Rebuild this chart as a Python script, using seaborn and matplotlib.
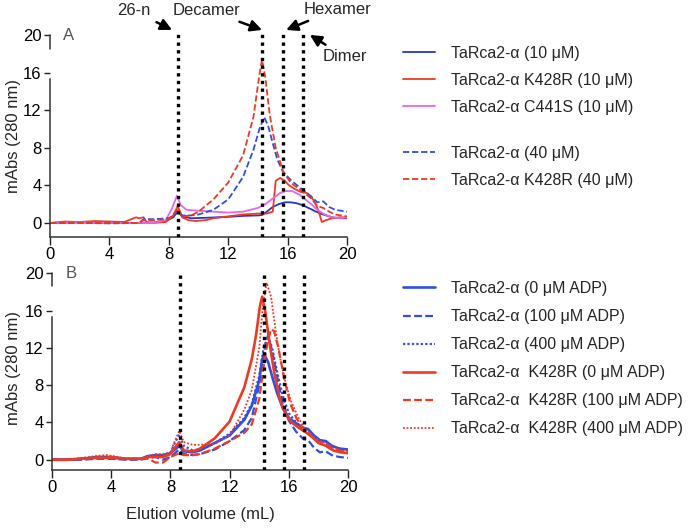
import matplotlib
matplotlib.use("Agg")
import matplotlib.pyplot as plt
import seaborn as sns

sns.set_style("ticks")
plt.rcParams['font.family'] = ['Liberation Sans', 'DejaVu Sans']

# ---------------- Data ----------------
# Panel A
a_blue10_x = [0, 2, 4, 6, 7, 7.8, 8.3, 8.6, 8.9, 9.5, 10.5, 12, 13, 14, 14.3, 14.6, 15, 15.4, 15.8, 16.2, 16.6, 17, 17.4, 17.8, 18.2, 18.6, 19, 19.5, 20]
a_blue10_y = [0, 0.05, 0, 0, 0.05, 0.2, 0.6, 1.2, 0.7, 0.5, 0.55, 0.65, 0.75, 0.8, 0.85, 1.2, 1.7, 2.0, 2.2, 2.2, 2.1, 1.9, 1.6, 1.3, 1.0, 0.8, 0.6, 0.5, 0.5]

a_red10_x = [0, 1, 2, 3, 4, 5, 5.8, 6.0, 6.3, 6.5, 7, 7.8, 8.3, 8.6, 8.9, 9.3, 9.8, 10.5, 11, 12, 13, 14, 14.6, 15.0, 15.2, 15.5, 15.8, 16.1, 16.5, 16.9, 17.3, 17.6, 17.9, 18.1, 18.3, 18.6, 19, 19.5, 20]
a_red10_y = [0.0, 0.15, 0.1, 0.2, 0.15, 0.1, 0.6, 0.5, 0.6, 0.1, 0.0, 0.1, 0.8, 1.8, 0.6, 0.3, 0.2, 0.3, 0.5, 0.7, 0.9, 1.0, 1.0, 1.2, 4.5, 4.8, 4.5, 4.0, 3.6, 3.3, 3.2, 2.8, 2.0, 1.2, 0.1, 0.3, 0.5, 0.6, 0.6]

a_mag10_x = [0, 2, 4, 6, 7, 7.8, 8.2, 8.55, 8.8, 9.2, 10, 11, 12, 13, 14, 14.5, 15, 15.5, 15.9, 16.3, 16.8, 17.2, 17.6, 18, 18.5, 19, 19.5, 20]
a_mag10_y = [0, 0.05, 0, 0, 0, 0.3, 1.5, 2.9, 1.9, 1.4, 1.3, 1.2, 1.1, 1.2, 1.6, 2.0, 2.6, 3.2, 3.4, 3.4, 3.0, 2.5, 2.0, 1.4, 0.9, 0.6, 0.5, 0.6]

a_blue40_x = [0, 2, 4, 6, 6.3, 7, 8, 8.3, 8.6, 8.9, 9.5, 10, 11, 12, 13, 13.7, 14.1, 14.42, 14.7, 15, 15.3, 15.7, 16.2, 16.8, 17.2, 17.6, 18, 18.4, 18.8, 19.2, 19.6, 20]
a_blue40_y = [0, 0, -0.05, 0, 0.4, 0.4, 0.5, 0.8, 1.3, 0.8, 0.8, 0.9, 1.4, 2.5, 4.9, 7.8, 10.0, 11.3, 10.3, 8.5, 6.8, 5.4, 4.6, 3.8, 3.3, 2.8, 2.2, 2.3, 1.7, 1.4, 1.3, 1.2]

a_red40_x = [0, 2, 4, 6, 6.3, 7, 8, 8.3, 8.6, 8.9, 9.5, 10, 11, 12, 13, 13.7, 14.1, 14.28, 14.5, 14.8, 15.2, 15.7, 16.2, 16.8, 17.2, 17.6, 18, 18.4, 18.8, 19.2, 19.6, 20]
a_red40_y = [0, 0, 0, 0, 0.3, 0.3, 0.4, 0.9, 1.6, 0.7, 0.8, 1.2, 2.5, 4.3, 7.2, 11.3, 15.8, 17.4, 15.5, 11.5, 8.0, 5.5, 4.3, 3.6, 3.1, 2.6, 1.8, 1.6, 1.2, 0.9, 0.8, 0.7]

# Panel B
b_blue0_x = [0, 1, 2, 3, 4, 5, 6, 6.5, 7, 7.5, 8, 8.3, 8.6, 8.9, 9.5, 10, 11, 12, 13, 13.5, 14, 14.2, 14.4, 14.6, 14.9, 15.2, 15.6, 16, 16.5, 17, 17.3, 17.7, 18.1, 18.5, 18.9, 19.4, 20]
b_blue0_y = [0, 0, 0.1, 0.3, 0.3, 0.1, 0.1, 0.4, 0.5, 0.5, 0.7, 1.1, 1.5, 0.9, 0.8, 1.0, 1.8, 2.6, 4.3, 5.8, 8.5, 10.8, 11.1, 10.5, 8.8, 7.2, 5.5, 4.5, 3.9, 3.4, 3.3, 2.6, 2.1, 2.0, 1.5, 1.2, 1.1]

b_blue100_x = [0, 1, 2, 3, 4, 5, 6, 6.5, 7, 7.5, 8, 8.3, 8.6, 8.9, 9.5, 10, 11, 12, 13, 13.5, 14, 14.3, 14.6, 14.9, 15.2, 15.6, 16, 16.5, 17, 17.3, 17.7, 18.1, 18.5, 18.9, 19.4, 20]
b_blue100_y = [0, 0, 0, 0.1, 0.1, 0, 0, 0.2, 0.3, 0, 0.3, 0.7, 1.1, 0.6, 0.5, 0.6, 1.1, 2.0, 3.2, 4.5, 8.0, 11.5, 13.4, 11.5, 9.0, 6.0, 4.2, 3.0, 2.2, 2.1, 1.3, 0.8, 0.9, 0.5, 0.3, 0.2]

b_blue400_x = [0, 1, 2, 3, 4, 5, 6, 6.5, 7, 7.5, 8, 8.3, 8.6, 8.9, 9.5, 10, 11, 12, 13, 13.5, 14, 14.3, 14.6, 14.9, 15.2, 15.6, 16, 16.5, 17, 17.3, 17.7, 18.1, 18.5, 18.9, 19.4, 20]
b_blue400_y = [0, 0, 0.1, 0.2, 0.2, 0.1, 0.1, 0.4, 0.4, 0.4, 0.7, 1.8, 2.7, 1.5, 1.0, 1.1, 1.8, 2.8, 4.5, 6.0, 9.0, 12.0, 13.3, 11.8, 9.5, 6.8, 5.0, 4.0, 3.3, 3.2, 2.5, 2.0, 1.9, 1.5, 1.2, 1.0]

b_red0_x = [0, 1, 2, 3, 4, 5, 6, 6.5, 7, 7.5, 8, 8.3, 8.6, 8.9, 9.5, 10, 11, 12, 13, 13.5, 13.8, 14.05, 14.2, 14.4, 14.7, 15, 15.4, 15.8, 16.2, 16.7, 17.2, 17.6, 18, 18.5, 19, 19.5, 20]
b_red0_y = [0, 0, 0.1, 0.2, 0.2, 0.1, 0.1, 0.3, 0.3, 0.3, 0.6, 1.3, 1.9, 1.0, 0.9, 1.2, 2.3, 4.1, 7.8, 10.8, 13.5, 16.5, 17.5, 16.0, 12.5, 9.5, 6.5, 4.8, 4.0, 3.4, 2.9, 2.4, 1.8, 1.5, 1.0, 0.8, 0.7]

b_red100_x = [0, 1, 2, 3, 4, 5, 6, 6.5, 7, 7.5, 8, 8.3, 8.6, 8.9, 9.5, 10, 11, 12, 13, 13.5, 14, 14.3, 14.55, 14.8, 15.0, 15.3, 15.7, 16.1, 16.5, 17, 17.3, 17.7, 18.1, 18.5, 19, 19.5, 20]
b_red100_y = [0, 0, 0.1, 0.2, 0.3, 0.1, 0.1, 0.1, -0.3, -0.3, 0.3, 0.5, 0.7, 0.5, 0.5, 0.6, 1.2, 2.0, 2.9, 3.8, 6.5, 10.0, 12.5, 14.0, 13.8, 12.0, 8.6, 6.0, 4.5, 3.2, 2.8, 2.3, 1.8, 1.6, 1.2, 1.0, 0.9]

b_red400_x = [0, 1, 2, 3, 3.7, 4.5, 5, 6, 6.5, 7, 7.5, 8, 8.3, 8.6, 8.9, 9.5, 10, 11, 12, 13, 13.5, 14, 14.25, 14.5, 14.8, 15.1, 15.4, 15.7, 16.1, 16.5, 17, 17.3, 17.7, 18.1, 18.5, 19, 19.5, 20]
b_red400_y = [0, 0, 0.2, 0.4, 0.5, 0.3, 0.1, 0.1, 0.3, 0.6, 0.6, 0.8, 2.0, 3.1, 1.9, 1.6, 1.6, 1.7, 2.6, 5.4, 7.5, 12.0, 16.5, 19.0, 17.5, 14.0, 11.0, 8.8, 6.5, 5.0, 3.5, 3.0, 2.4, 2.0, 1.8, 1.3, 1.0, 0.9]

marker_positions = [8.65, 14.3, 15.7, 17.05]
marker_labels = ["26-n", "Decamer", "Hexamer", "Dimer"]
x_ticks = [0, 4, 8, 12, 16, 20]
y_ticks = [0, 4, 8, 12, 16, 20]

legend_a1 = ["TaRca2-α (10 μM)", "TaRca2-α K428R (10 μM)", "TaRca2-α C441S (10 μM)"]
legend_a2 = ["TaRca2-α (40 μM)", "TaRca2-α K428R (40 μM)"]
legend_b = ["TaRca2-α (0 μM ADP)", "TaRca2-α (100 μM ADP)", "TaRca2-α (400 μM ADP)",
            "TaRca2-α  K428R (0 μM ADP)", "TaRca2-α  K428R (100 μM ADP)", "TaRca2-α  K428R (400 μM ADP)"]

BLUE = '#2437c8'
BLUE2 = '#2f4fe0'
RED = '#ee3a24'
MAG = '#e866e6'

W, H = 689, 528
fig = plt.figure(figsize=(W / 100, H / 100), dpi=100)

axA = fig.add_axes([50 / W, 1 - 237 / H, 297 / W, 211 / H])
axB = fig.add_axes([52 / W, 1 - 470 / H, 296 / W, 206 / H])

DASH = (0, (3.5, 1.5))
DOT = (0, (1, 1))

# ---- Panel A lines
la = []
la.append(sns.lineplot(x=a_blue10_x, y=a_blue10_y, ax=axA, color=BLUE, lw=1.3, sort=False).lines[-1])
la.append(sns.lineplot(x=a_red10_x, y=a_red10_y, ax=axA, color=RED, lw=1.3, sort=False).lines[-1])
la.append(sns.lineplot(x=a_mag10_x, y=a_mag10_y, ax=axA, color=MAG, lw=1.3, sort=False).lines[-1])
la.append(sns.lineplot(x=a_blue40_x, y=a_blue40_y, ax=axA, color=BLUE2, lw=1.3, linestyle=DASH, sort=False).lines[-1])
la.append(sns.lineplot(x=a_red40_x, y=a_red40_y, ax=axA, color=RED, lw=1.3, linestyle=DASH, sort=False).lines[-1])

# ---- Panel B lines
lb = []
lb.append(sns.lineplot(x=b_blue0_x, y=b_blue0_y, ax=axB, color=BLUE2, lw=1.9, sort=False).lines[-1])
lb.append(sns.lineplot(x=b_blue100_x, y=b_blue100_y, ax=axB, color=BLUE2, lw=1.6, linestyle=DASH, sort=False).lines[-1])
lb.append(sns.lineplot(x=b_blue400_x, y=b_blue400_y, ax=axB, color=BLUE2, lw=1.6, linestyle=DOT, sort=False).lines[-1])
lb.append(sns.lineplot(x=b_red0_x, y=b_red0_y, ax=axB, color=RED, lw=1.9, sort=False).lines[-1])
lb.append(sns.lineplot(x=b_red100_x, y=b_red100_y, ax=axB, color=RED, lw=1.6, linestyle=DASH, sort=False).lines[-1])
lb.append(sns.lineplot(x=b_red400_x, y=b_red400_y, ax=axB, color=RED, lw=1.3, linestyle=DOT, sort=False).lines[-1])

for ax, ylo, vtop in [(axA, -1.5, 20.2), (axB, -1.1, 20.3)]:
    ax.set_xlim(0, 20)
    ax.set_ylim(ylo, 21)
    ax.vlines(marker_positions, ylo, vtop, colors='black', linestyles=(0, (1, 1.3)), lw=2.4, zorder=5)
    ax.set_xticks(x_ticks)
    ax.set_yticks(y_ticks)
    ax.tick_params(axis='both', labelsize=12, colors='#222222', width=1)
    ax.tick_params(axis='x', length=5.5, pad=2)
    ax.tick_params(axis='y', length=4, pad=2)
    for lab in ax.get_xticklabels() + ax.get_yticklabels():
        lab.set_color('black')
    sns.despine(ax=ax)
    ax.spines['left'].set_bounds(ylo, 15.3)
    ax.spines['bottom'].set_bounds(0, 20)
    for s in ['left', 'bottom']:
        ax.spines[s].set_color('#333333')
        ax.spines[s].set_linewidth(1.1)
    ax.plot([0, 0], [18.6, 20], color='#333333', lw=1.1, clip_on=False,
            transform=ax.get_yaxis_transform())
    ax.set_xlabel('')
    ax.set_ylabel('')

# Panel letters
fig.text(69 / W, 1 - 35 / H, 'A', fontsize=12, color='#555555', ha='center', va='center')
fig.text(71 / W, 1 - 273 / H, 'B', fontsize=12, color='#555555', ha='center', va='center')

# Axis labels
fig.text(14 / W, 1 - 136 / H, 'mAbs (280 nm)', rotation=90, fontsize=12, ha='center', va='center')
fig.text(14 / W, 1 - 368 / H, 'mAbs (280 nm)', rotation=90, fontsize=12, ha='center', va='center')
fig.text(200 / W, 1 - 515 / H, 'Elution volume (mL)', fontsize=12, ha='center', va='center')

# Annotations (panel A)
ann_text = [(5.66, 22.6), (10.57, 22.7), (19.33, 22.8), (19.87, 17.7)]
ann_tip = [(8.22, 20.58), (14.28, 20.58), (15.9, 20.58), (17.5, 20.05)]
for lab, tp, tip in zip(marker_labels, ann_text, ann_tip):
    axA.annotate(lab, xy=tip, xytext=tp, xycoords='data', textcoords='data',
                 ha='center', va='center', fontsize=12, annotation_clip=False,
                 arrowprops=dict(arrowstyle='-|>', color='black', lw=1.8,
                                 mutation_scale=17, shrinkA=2, shrinkB=0))

# Legends
leg_kw = dict(frameon=False, fontsize=11.5, handlelength=2.0, handletextpad=1.0,
              borderpad=0, borderaxespad=0, loc='upper left')
fig.legend(la[:3], legend_a1, bbox_to_anchor=(403 / W, 1 - 46 / H), labelspacing=0.74, **leg_kw)
fig.legend(la[3:], legend_a2, bbox_to_anchor=(403 / W, 1 - 146 / H), labelspacing=0.74, **leg_kw)
fig.legend(lb, legend_b, bbox_to_anchor=(403 / W, 1 - 281 / H), labelspacing=0.82, **leg_kw)

fig.savefig('out.png', dpi=100)
